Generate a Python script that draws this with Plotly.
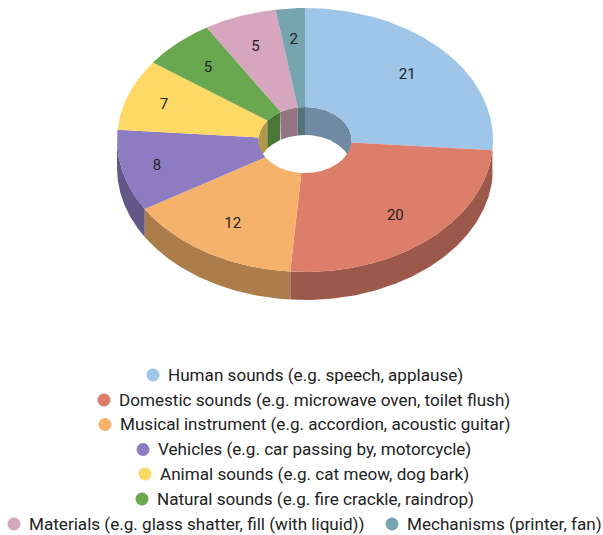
import numpy as np
import plotly.graph_objects as go

categories = [
    "Human sounds (e.g. speech, applause)",
    "Domestic sounds (e.g. microwave oven, toilet flush)",
    "Musical instrument (e.g. accordion, acoustic guitar)",
    "Vehicles (e.g. car passing by, motorcycle)",
    "Animal sounds (e.g. cat meow, dog bark)",
    "Natural sounds (e.g. fire crackle, raindrop)",
    "Materials (e.g. glass shatter, fill (with liquid))",
    "Mechanisms (printer, fan)",
]
values = [21, 20, 12, 8, 7, 5, 5, 2]
colors = ["#9fc5e8", "#dd7e6b", "#f6b26b", "#8e7cc3", "#ffd966", "#6aa84f", "#d5a6bd", "#76a5af"]

# Layout of the drawing, in window pixels
W, H = 603, 535
CX, CY, RX, RY = 305, 140, 188, 132
HX, HY = 46.5, 33
DEPTH = 28
LABEL_F = [0.74, 0.74, 0.735, 0.81, 0.80, 0.76, 0.76, 0.77]
LABEL_DY = 1.5
LEGEND_MARK_X = [153, 104, 105, 143, 145, 142, 14, 392]
LEGEND_Y = [375, 400, 424.5, 449.5, 474, 499, 524, 524]
TEXT_GAP = 15
TEXT_DY = 1.5


def darker(hex_color, f=0.7):
    r, g, b = (int(hex_color[i:i + 2], 16) for i in (1, 3, 5))
    return f"rgb({r * f:.0f},{g * f:.0f},{b * f:.0f})"


def arc(a0, a1, rx, ry, dy=0):
    t = np.radians(np.linspace(a0, a1, max(int(abs(a1 - a0)) * 2 + 2, 2)))
    return CX + rx * np.sin(t), CY + dy - ry * np.cos(t)


def band(x0, y0, x1, y1):
    return np.r_[x0, x1[::-1], x0[:1]], np.r_[y0, y1[::-1], y0[:1]]


fig = go.Figure()


def add_poly(x, y, color, name):
    fig.add_trace(go.Scatter(x=x, y=y, mode="lines", fill="toself", fillcolor=color,
                             line=dict(width=0, color=color), hoverinfo="skip",
                             showlegend=False, name=name))


edges = np.cumsum([0] + values) / sum(values) * 360

# Outer side wall: the front half of the rim
for name, col, a0, a1 in zip(categories, colors, edges[:-1], edges[1:]):
    lo, hi = max(a0, 90), min(a1, 270)
    if hi > lo:
        x0, y0 = arc(lo, hi, RX, RY)
        x1, y1 = arc(lo, hi, RX, RY, DEPTH)
        add_poly(*band(x0, y0, x1, y1), darker(col), name)

# Inner wall: the back half of the hole
for name, col, a0, a1 in zip(categories, colors, edges[:-1], edges[1:]):
    for lo, hi in ((max(a0, 0), min(a1, 90)), (max(a0, 270), min(a1, 360))):
        if hi > lo:
            x0, y0 = arc(lo, hi, HX, HY)
            x1, y1 = arc(lo, hi, HX, HY, DEPTH)
            add_poly(*band(x0, y0, x1, y1), darker(col), name)

# Top face
for name, col, a0, a1 in zip(categories, colors, edges[:-1], edges[1:]):
    x0, y0 = arc(a0, a1, RX, RY)
    x1, y1 = arc(a0, a1, HX, HY)
    add_poly(*band(x0, y0, x1, y1), col, name)

# Value labels
mids = np.radians((edges[:-1] + edges[1:]) / 2)
label_f = np.array(LABEL_F)
fig.add_trace(go.Scatter(
    x=CX + RX * label_f * np.sin(mids), y=CY + LABEL_DY - RY * label_f * np.cos(mids),
    mode="text", text=[str(v) for v in values], textposition="middle center",
    textfont=dict(family="Roboto", size=15, color="#222222"),
    hoverinfo="skip", showlegend=False))

# Legend, centred row by row
fig.add_trace(go.Scatter(
    x=LEGEND_MARK_X, y=LEGEND_Y, mode="markers",
    marker=dict(size=13, color=colors, symbol="circle", line=dict(width=0)),
    hoverinfo="skip", showlegend=False))
fig.add_trace(go.Scatter(
    x=[m + TEXT_GAP for m in LEGEND_MARK_X], y=[v + TEXT_DY for v in LEGEND_Y],
    mode="text", text=categories, textposition="middle right",
    textfont=dict(family="Roboto", size=17.1, color="#222222"),
    hoverinfo="skip", showlegend=False))

fig.update_layout(
    width=W, height=H, margin=dict(l=0, r=0, t=0, b=0),
    paper_bgcolor="white", plot_bgcolor="white", showlegend=False,
    xaxis=dict(range=[0, W], visible=False, fixedrange=True),
    yaxis=dict(range=[H, 0], visible=False, fixedrange=True),
)
fig.write_html("out.html", config={"displayModeBar": False},
               post_script="document.body.style.margin='0';document.body.style.overflow='hidden';")
